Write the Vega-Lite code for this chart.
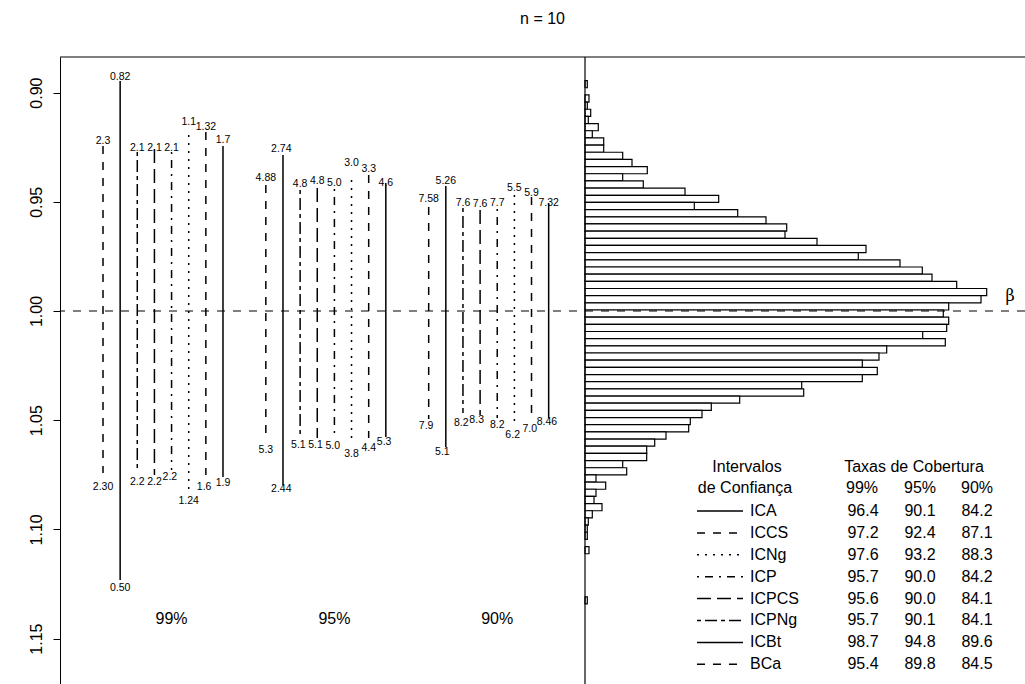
{
  "$schema": "https://vega.github.io/schema/vega-lite/v6.json",
  "width": 965,
  "height": 627,
  "autosize": {"type": "none"},
  "padding": {"left": 60, "top": 57, "right": 0, "bottom": 0},
  "title": {"text": "n = 10", "fontSize": 16, "font": "Liberation Sans", "fontWeight": "normal", "anchor": "middle", "baseline": "alphabetic", "offset": 16, "color": "black"},
  "config": {
    "view": {"stroke": null},
    "font": "Liberation Sans",
    "axisY": {"domainColor": "black", "tickColor": "black", "labelColor": "black", "labelFontSize": 16, "labelFont": "Liberation Sans", "labelAngle": -90, "labelAlign": "center", "labelBaseline": "middle", "tickSize": 7, "labelPadding": 17, "grid": false, "domainWidth": 1, "tickWidth": 1}
  },
  "datasets": {
    "intervals": [
      {"grp": "99%", "method": "BCa", "pos": 1, "lo": 0.9244, "hi": 1.0742},
      {"grp": "99%", "method": "ICBt", "pos": 2, "lo": 0.8947, "hi": 1.1232},
      {"grp": "99%", "method": "ICPNg", "pos": 3, "lo": 0.9272, "hi": 1.0737},
      {"grp": "99%", "method": "ICPCS", "pos": 4, "lo": 0.9258, "hi": 1.0751},
      {"grp": "99%", "method": "ICP", "pos": 5, "lo": 0.9272, "hi": 1.0728},
      {"grp": "99%", "method": "ICNg", "pos": 6, "lo": 0.9194, "hi": 1.0829},
      {"grp": "99%", "method": "ICCS", "pos": 7, "lo": 0.9180, "hi": 1.0751},
      {"grp": "99%", "method": "ICA", "pos": 8, "lo": 0.9244, "hi": 1.0760},
      {"grp": "95%", "method": "BCa", "pos": 10.5, "lo": 0.9423, "hi": 1.0591},
      {"grp": "95%", "method": "ICBt", "pos": 11.5, "lo": 0.9286, "hi": 1.0797},
      {"grp": "95%", "method": "ICPNg", "pos": 12.5, "lo": 0.9446, "hi": 1.0582},
      {"grp": "95%", "method": "ICPCS", "pos": 13.5, "lo": 0.9437, "hi": 1.0582},
      {"grp": "95%", "method": "ICP", "pos": 14.5, "lo": 0.9441, "hi": 1.0559},
      {"grp": "95%", "method": "ICNg", "pos": 15.5, "lo": 0.9400, "hi": 1.0600},
      {"grp": "95%", "method": "ICCS", "pos": 16.5, "lo": 0.9377, "hi": 1.0582},
      {"grp": "95%", "method": "ICA", "pos": 17.5, "lo": 0.9414, "hi": 1.0577},
      {"grp": "90%", "method": "BCa", "pos": 20, "lo": 0.9524, "hi": 1.0495},
      {"grp": "90%", "method": "ICBt", "pos": 21, "lo": 0.9428, "hi": 1.0623},
      {"grp": "90%", "method": "ICPNg", "pos": 22, "lo": 0.9528, "hi": 1.0467},
      {"grp": "90%", "method": "ICPCS", "pos": 23, "lo": 0.9538, "hi": 1.0476},
      {"grp": "90%", "method": "ICP", "pos": 24, "lo": 0.9533, "hi": 1.0490},
      {"grp": "90%", "method": "ICNg", "pos": 25, "lo": 0.9469, "hi": 1.0522},
      {"grp": "90%", "method": "ICCS", "pos": 26, "lo": 0.9478, "hi": 1.0481},
      {"grp": "90%", "method": "ICA", "pos": 27, "lo": 0.9505, "hi": 1.0490}
    ],
    "endlabels": [
      {"pos": 1, "y": 0.9222, "t": "2.3"}, {"pos": 2, "y": 0.8927, "t": "0.82"}, {"pos": 3, "y": 0.9252, "t": "2.1"}, {"pos": 4, "y": 0.9252, "t": "2.1"},
      {"pos": 5, "y": 0.9252, "t": "2.1"}, {"pos": 6, "y": 0.9133, "t": "1.1"}, {"pos": 7, "y": 0.9159, "t": "1.32"}, {"pos": 8, "y": 0.9217, "t": "1.7"},
      {"pos": 1, "y": 1.0806, "t": "2.30"}, {"pos": 2, "y": 1.1268, "t": "0.50"}, {"pos": 3, "y": 1.0783, "t": "2.2"}, {"pos": 4, "y": 1.0783, "t": "2.2"},
      {"pos": 4.9, "y": 1.0760, "t": "2.2"}, {"pos": 6, "y": 1.0870, "t": "1.24"}, {"pos": 6.9, "y": 1.0806, "t": "1.6"}, {"pos": 8, "y": 1.0788, "t": "1.9"},
      {"pos": 10.5, "y": 0.9390, "t": "4.88"}, {"pos": 11.4, "y": 0.9260, "t": "2.74"}, {"pos": 12.5, "y": 0.9420, "t": "4.8"}, {"pos": 13.5, "y": 0.9405, "t": "4.8"},
      {"pos": 14.5, "y": 0.9415, "t": "5.0"}, {"pos": 15.5, "y": 0.9324, "t": "3.0"}, {"pos": 16.5, "y": 0.9351, "t": "3.3"}, {"pos": 17.5, "y": 0.9413, "t": "4.6"},
      {"pos": 10.5, "y": 1.0636, "t": "5.3"}, {"pos": 11.4, "y": 1.0816, "t": "2.44"}, {"pos": 12.4, "y": 1.0614, "t": "5.1"}, {"pos": 13.4, "y": 1.0614, "t": "5.1"},
      {"pos": 14.4, "y": 1.0618, "t": "5.0"}, {"pos": 15.5, "y": 1.0656, "t": "3.8"}, {"pos": 16.5, "y": 1.0629, "t": "4.4"}, {"pos": 17.4, "y": 1.0601, "t": "5.3"},
      {"pos": 20, "y": 0.9489, "t": "7.58"}, {"pos": 21, "y": 0.9403, "t": "5.26"}, {"pos": 22, "y": 0.9504, "t": "7.6"}, {"pos": 23, "y": 0.9511, "t": "7.6"},
      {"pos": 24, "y": 0.9507, "t": "7.7"}, {"pos": 25, "y": 0.9438, "t": "5.5"}, {"pos": 26, "y": 0.9461, "t": "5.9"}, {"pos": 27, "y": 0.9504, "t": "7.32"},
      {"pos": 19.85, "y": 1.0527, "t": "7.9"}, {"pos": 20.8, "y": 1.0644, "t": "5.1"}, {"pos": 21.9, "y": 1.0514, "t": "8.2"}, {"pos": 22.8, "y": 1.0499, "t": "8.3"},
      {"pos": 24, "y": 1.0522, "t": "8.2"}, {"pos": 24.9, "y": 1.0568, "t": "6.2"}, {"pos": 25.9, "y": 1.0542, "t": "7.0"}, {"pos": 26.9, "y": 1.0510, "t": "8.46"}
    ],
    "groups": [
      {"pos": 5, "y": 1.141, "t": "99%"},
      {"pos": 14.5, "y": 1.141, "t": "95%"},
      {"pos": 24, "y": 1.141, "t": "90%"}
    ],
    "hist": [
      {"lo": 0.89448, "hi": 0.89777, "n": 2.3},
      {"lo": 0.90105, "hi": 0.90433, "n": 4},
      {"lo": 0.90433, "hi": 0.90762, "n": 2.3},
      {"lo": 0.90762, "hi": 0.91090, "n": 5.7},
      {"lo": 0.91090, "hi": 0.91418, "n": 3.3},
      {"lo": 0.91418, "hi": 0.91747, "n": 13.3},
      {"lo": 0.91747, "hi": 0.92075, "n": 7.3},
      {"lo": 0.92075, "hi": 0.92403, "n": 18.7},
      {"lo": 0.92403, "hi": 0.92731, "n": 18.7},
      {"lo": 0.92731, "hi": 0.93060, "n": 37.7},
      {"lo": 0.93060, "hi": 0.93388, "n": 47},
      {"lo": 0.93388, "hi": 0.93716, "n": 62.3},
      {"lo": 0.93716, "hi": 0.94045, "n": 37.7},
      {"lo": 0.94045, "hi": 0.94373, "n": 58.3},
      {"lo": 0.94373, "hi": 0.94701, "n": 100},
      {"lo": 0.94701, "hi": 0.95030, "n": 133.7},
      {"lo": 0.95030, "hi": 0.95358, "n": 109.3},
      {"lo": 0.95358, "hi": 0.95686, "n": 152.7},
      {"lo": 0.95686, "hi": 0.96014, "n": 181},
      {"lo": 0.96014, "hi": 0.96343, "n": 201.7},
      {"lo": 0.96343, "hi": 0.96671, "n": 200},
      {"lo": 0.96671, "hi": 0.96999, "n": 232},
      {"lo": 0.96999, "hi": 0.97328, "n": 281},
      {"lo": 0.97328, "hi": 0.97656, "n": 273.3},
      {"lo": 0.97656, "hi": 0.97984, "n": 315},
      {"lo": 0.97984, "hi": 0.98313, "n": 337.3},
      {"lo": 0.98313, "hi": 0.98641, "n": 347},
      {"lo": 0.98641, "hi": 0.98969, "n": 371.7},
      {"lo": 0.98969, "hi": 0.99297, "n": 401.7},
      {"lo": 0.99297, "hi": 0.99626, "n": 396},
      {"lo": 0.99626, "hi": 0.99954, "n": 363.7},
      {"lo": 0.99954, "hi": 1.00282, "n": 358.3},
      {"lo": 1.00282, "hi": 1.00611, "n": 363.7},
      {"lo": 1.00611, "hi": 1.00939, "n": 361.7},
      {"lo": 1.00939, "hi": 1.01267, "n": 337.7},
      {"lo": 1.01267, "hi": 1.01596, "n": 360.3},
      {"lo": 1.01596, "hi": 1.01924, "n": 301.7},
      {"lo": 1.01924, "hi": 1.02252, "n": 294},
      {"lo": 1.02252, "hi": 1.02580, "n": 277.3},
      {"lo": 1.02580, "hi": 1.02909, "n": 292.3},
      {"lo": 1.02909, "hi": 1.03237, "n": 277.3},
      {"lo": 1.03237, "hi": 1.03565, "n": 216.7},
      {"lo": 1.03565, "hi": 1.03894, "n": 218.7},
      {"lo": 1.03894, "hi": 1.04222, "n": 154.7},
      {"lo": 1.04222, "hi": 1.04550, "n": 126.3},
      {"lo": 1.04550, "hi": 1.04879, "n": 117},
      {"lo": 1.04879, "hi": 1.05207, "n": 105.3},
      {"lo": 1.05207, "hi": 1.05535, "n": 103.7},
      {"lo": 1.05535, "hi": 1.05863, "n": 81},
      {"lo": 1.05863, "hi": 1.06192, "n": 69.7},
      {"lo": 1.06192, "hi": 1.06520, "n": 61.7},
      {"lo": 1.06520, "hi": 1.06848, "n": 61.7},
      {"lo": 1.06848, "hi": 1.07177, "n": 37.7},
      {"lo": 1.07177, "hi": 1.07505, "n": 41.7},
      {"lo": 1.07505, "hi": 1.07833, "n": 11},
      {"lo": 1.07833, "hi": 1.08162, "n": 20.7},
      {"lo": 1.08162, "hi": 1.08490, "n": 11},
      {"lo": 1.08490, "hi": 1.08818, "n": 9},
      {"lo": 1.08818, "hi": 1.09146, "n": 17},
      {"lo": 1.09146, "hi": 1.09475, "n": 7.3},
      {"lo": 1.09475, "hi": 1.09803, "n": 3.3},
      {"lo": 1.09803, "hi": 1.10131, "n": 2.3},
      {"lo": 1.10131, "hi": 1.10460, "n": 2.3},
      {"lo": 1.10788, "hi": 1.11116, "n": 4},
      {"lo": 1.13086, "hi": 1.13414, "n": 2.3}
    ],
    "legend": [
      {"method": "ICA", "y": 1.09158, "c99": "96.4", "c95": "90.1", "c90": "84.2"},
      {"method": "ICCS", "y": 1.10161, "c99": "97.2", "c95": "92.4", "c90": "87.1"},
      {"method": "ICNg", "y": 1.11164, "c99": "97.6", "c95": "93.2", "c90": "88.3"},
      {"method": "ICP", "y": 1.12166, "c99": "95.7", "c95": "90.0", "c90": "84.2"},
      {"method": "ICPCS", "y": 1.13169, "c99": "95.6", "c95": "90.0", "c90": "84.1"},
      {"method": "ICPNg", "y": 1.14172, "c99": "95.7", "c95": "90.1", "c90": "84.1"},
      {"method": "ICBt", "y": 1.15175, "c99": "98.7", "c95": "94.8", "c90": "89.6"},
      {"method": "BCa", "y": 1.16178, "c99": "95.4", "c95": "89.8", "c90": "84.5"}
    ],
    "headers": [
      {"x": 162, "y": 1.0713, "t": "Intervalos"},
      {"x": 160, "y": 1.0812, "t": "de Confiança"},
      {"x": 329, "y": 1.0713, "t": "Taxas de Cobertura"},
      {"x": 277, "y": 1.0812, "t": "99%"},
      {"x": 335, "y": 1.0812, "t": "95%"},
      {"x": 392, "y": 1.0812, "t": "90%"}
    ]
  },
  "layer": [
    {
      "layer": [
        {
          "data": {"name": "intervals"},
          "mark": {"type": "rule", "strokeWidth": 1.5, "color": "black"},
          "encoding": {
            "x": {"field": "pos", "type": "quantitative", "scale": {"domain": [-1.509, 54.79], "nice": false, "zero": false}, "axis": null},
            "y": {"field": "lo", "type": "quantitative", "scale": {"domain": [0.88369, 1.1708], "reverse": true, "nice": false, "zero": false}, "title": null,
                  "axis": {"values": [0.9, 0.95, 1.0, 1.05, 1.1, 1.15], "format": ".2f", "title": null}},
            "y2": {"field": "hi"},
            "strokeDash": {"field": "method", "type": "nominal", "legend": null,
              "scale": {"domain": ["ICA", "ICCS", "ICNg", "ICP", "ICPCS", "ICPNg", "ICBt", "BCa"],
                        "range": [[1, 0], [8, 8], [2, 6], [2, 6, 8, 6], [14, 6], [4, 4, 12, 4], [1, 0], [8, 8]]}}
          }
        },
        {
          "data": {"name": "endlabels"},
          "mark": {"type": "text", "fontSize": 10.5, "font": "Liberation Sans", "color": "black", "align": "center", "baseline": "middle"},
          "encoding": {
            "x": {"field": "pos", "type": "quantitative", "scale": {"domain": [-1.509, 54.79], "nice": false, "zero": false}, "axis": null},
            "y": {"field": "y", "type": "quantitative", "scale": {"domain": [0.88369, 1.1708], "reverse": true, "nice": false, "zero": false}, "title": null},
            "text": {"field": "t", "type": "nominal"}
          }
        },
        {
          "data": {"name": "groups"},
          "mark": {"type": "text", "fontSize": 16, "font": "Liberation Sans", "color": "black", "align": "center", "baseline": "middle"},
          "encoding": {
            "x": {"field": "pos", "type": "quantitative", "scale": {"domain": [-1.509, 54.79], "nice": false, "zero": false}, "axis": null},
            "y": {"field": "y", "type": "quantitative", "scale": {"domain": [0.88369, 1.1708], "reverse": true, "nice": false, "zero": false}, "title": null},
            "text": {"field": "t", "type": "nominal"}
          }
        }
      ]
    },
    {
      "layer": [
        {
          "data": {"name": "hist"},
          "mark": {"type": "rect", "fill": "white", "stroke": "black", "strokeWidth": 1.2},
          "encoding": {
            "x": {"field": "n", "type": "quantitative", "scale": {"domain": [-525, 440], "nice": false, "zero": false}, "axis": null},
            "x2": {"datum": 0},
            "y": {"field": "lo", "type": "quantitative", "scale": {"domain": [0.88369, 1.1708], "reverse": true, "nice": false, "zero": false}, "title": null},
            "y2": {"field": "hi"}
          }
        },
        {
          "data": {"values": [{"a": 1}]},
          "mark": {"type": "rule", "color": "black", "strokeWidth": 1.2},
          "encoding": {
            "x": {"datum": 0, "type": "quantitative", "scale": {"domain": [-525, 440], "nice": false, "zero": false}, "axis": null}
          }
        },
        {
          "data": {"values": [{"a": 1}]},
          "mark": {"type": "rule", "color": "black", "strokeWidth": 1.2},
          "encoding": {
            "y": {"datum": 0.88369, "type": "quantitative", "scale": {"domain": [0.88369, 1.1708], "reverse": true, "nice": false, "zero": false}, "title": null}
          }
        },
        {
          "data": {"values": [{"a": 1}]},
          "mark": {"type": "rule", "color": "black", "strokeWidth": 1.2, "strokeDash": [8, 8]},
          "encoding": {
            "y": {"datum": 1.0, "type": "quantitative", "scale": {"domain": [0.88369, 1.1708], "reverse": true, "nice": false, "zero": false}, "title": null}
          }
        },
        {
          "data": {"values": [{"x": 425, "y": 0.99313, "t": "β"}]},
          "mark": {"type": "text", "fontSize": 16, "font": "DejaVu Serif", "color": "black", "align": "center", "baseline": "middle"},
          "encoding": {
            "x": {"field": "x", "type": "quantitative", "scale": {"domain": [-525, 440], "nice": false, "zero": false}, "axis": null},
            "y": {"field": "y", "type": "quantitative", "scale": {"domain": [0.88369, 1.1708], "reverse": true, "nice": false, "zero": false}, "title": null},
            "text": {"field": "t", "type": "nominal"}
          }
        },
        {
          "data": {"name": "headers"},
          "mark": {"type": "text", "fontSize": 16, "font": "Liberation Sans", "color": "black", "align": "center", "baseline": "middle"},
          "encoding": {
            "x": {"field": "x", "type": "quantitative", "scale": {"domain": [-525, 440], "nice": false, "zero": false}, "axis": null},
            "y": {"field": "y", "type": "quantitative", "scale": {"domain": [0.88369, 1.1708], "reverse": true, "nice": false, "zero": false}, "title": null},
            "text": {"field": "t", "type": "nominal"}
          }
        },
        {
          "data": {"name": "legend"},
          "mark": {"type": "rule", "color": "black", "strokeWidth": 1.5},
          "encoding": {
            "x": {"datum": 112, "type": "quantitative", "scale": {"domain": [-525, 440], "nice": false, "zero": false}, "axis": null},
            "x2": {"datum": 158},
            "y": {"field": "y", "type": "quantitative", "scale": {"domain": [0.88369, 1.1708], "reverse": true, "nice": false, "zero": false}, "title": null},
            "strokeDash": {"field": "method", "type": "nominal", "legend": null,
              "scale": {"domain": ["ICA", "ICCS", "ICNg", "ICP", "ICPCS", "ICPNg", "ICBt", "BCa"],
                        "range": [[1, 0], [8, 8], [2, 6], [2, 6, 8, 6], [14, 6], [4, 4, 12, 4], [1, 0], [8, 8]]}}
          }
        },
        {
          "data": {"name": "legend"},
          "mark": {"type": "text", "fontSize": 16, "font": "Liberation Sans", "color": "black", "align": "left", "baseline": "middle", "dx": 0},
          "encoding": {
            "x": {"datum": 165, "type": "quantitative", "scale": {"domain": [-525, 440], "nice": false, "zero": false}, "axis": null},
            "y": {"field": "y", "type": "quantitative", "scale": {"domain": [0.88369, 1.1708], "reverse": true, "nice": false, "zero": false}, "title": null},
            "text": {"field": "method", "type": "nominal"}
          }
        },
        {
          "data": {"name": "legend"},
          "mark": {"type": "text", "fontSize": 16, "font": "Liberation Sans", "color": "black", "align": "center", "baseline": "middle"},
          "encoding": {
            "x": {"datum": 278, "type": "quantitative", "scale": {"domain": [-525, 440], "nice": false, "zero": false}, "axis": null},
            "y": {"field": "y", "type": "quantitative", "scale": {"domain": [0.88369, 1.1708], "reverse": true, "nice": false, "zero": false}, "title": null},
            "text": {"field": "c99", "type": "nominal"}
          }
        },
        {
          "data": {"name": "legend"},
          "mark": {"type": "text", "fontSize": 16, "font": "Liberation Sans", "color": "black", "align": "center", "baseline": "middle"},
          "encoding": {
            "x": {"datum": 335, "type": "quantitative", "scale": {"domain": [-525, 440], "nice": false, "zero": false}, "axis": null},
            "y": {"field": "y", "type": "quantitative", "scale": {"domain": [0.88369, 1.1708], "reverse": true, "nice": false, "zero": false}, "title": null},
            "text": {"field": "c95", "type": "nominal"}
          }
        },
        {
          "data": {"name": "legend"},
          "mark": {"type": "text", "fontSize": 16, "font": "Liberation Sans", "color": "black", "align": "center", "baseline": "middle"},
          "encoding": {
            "x": {"datum": 392, "type": "quantitative", "scale": {"domain": [-525, 440], "nice": false, "zero": false}, "axis": null},
            "y": {"field": "y", "type": "quantitative", "scale": {"domain": [0.88369, 1.1708], "reverse": true, "nice": false, "zero": false}, "title": null},
            "text": {"field": "c90", "type": "nominal"}
          }
        }
      ]
    }
  ],
  "resolve": {"scale": {"x": "independent"}}
}
